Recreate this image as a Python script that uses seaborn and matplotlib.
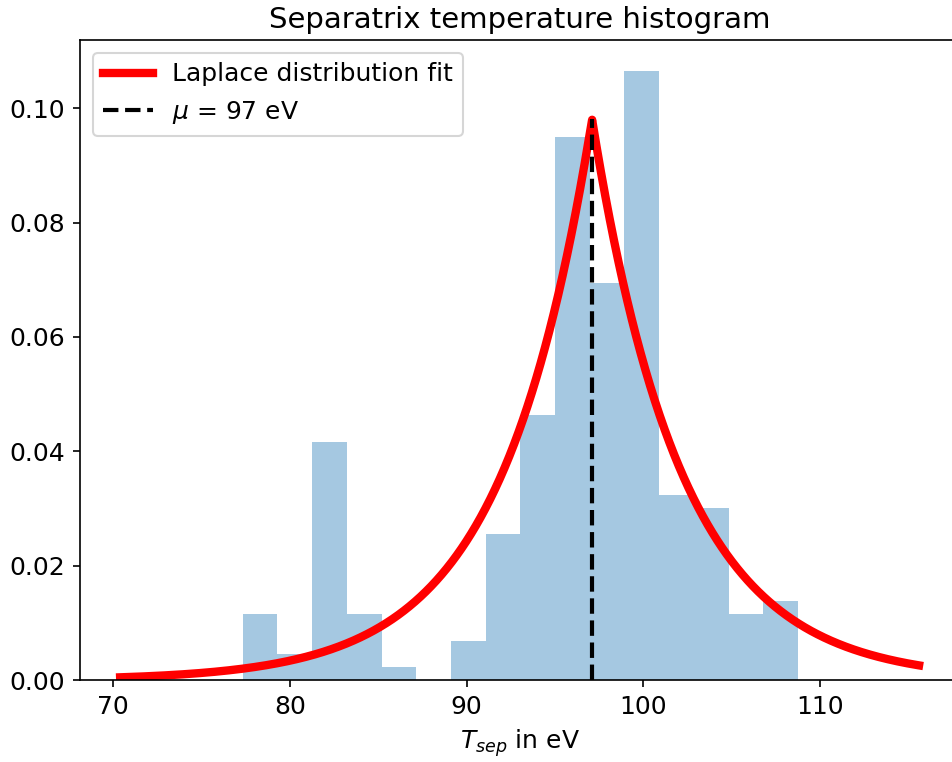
import numpy as np
import pandas as pd
import matplotlib
matplotlib.use("Agg")
import matplotlib.pyplot as plt
import seaborn as sns

# Histogram data (density per bin)
bin_edges = [77.34, 79.30, 81.27, 83.23, 85.19, 87.16, 89.12, 91.08, 93.04,
             95.01, 96.97, 98.93, 100.90, 102.86, 104.82, 106.79, 108.75]
bin_density = [0.0116, 0.0046, 0.0417, 0.0116, 0.0023, 0.0, 0.0069, 0.0255,
               0.0463, 0.0949, 0.0695, 0.1065, 0.0324, 0.0301, 0.0116, 0.0139]

# Laplace fit parameters
fit_mu = 97.1
fit_b = 5.1
fit_range = [70.4, 115.6]

centers = [(bin_edges[i] + bin_edges[i + 1]) / 2 for i in range(len(bin_density))]
hist_df = pd.DataFrame({"T": centers, "density": bin_density})

xs = np.linspace(fit_range[0], fit_range[1], 2000)
pdf = np.exp(-np.abs(xs - fit_mu) / fit_b) / (2 * fit_b)
fit_df = pd.DataFrame({"T": xs, "pdf": pdf})

plt.rcParams["font.family"] = ["DejaVu Sans"]
fig = plt.figure(figsize=(952 / 150, 762 / 150), dpi=150)
ax = fig.add_axes([80 / 952, (762 - 680.3) / 762, (959 - 80) / 952, (680.3 - 40) / 762])

sns.histplot(data=hist_df, x="T", weights="density", bins=bin_edges, stat="count",
             color="#1f77b4", alpha=0.4, linewidth=0, ax=ax)
sns.lineplot(data=fit_df, x="T", y="pdf", color="red", linewidth=4,
             label="Laplace distribution fit", ax=ax)
peak = 1 / (2 * fit_b)
ax.plot([fit_mu, fit_mu], [0, peak], color="black", linestyle="--", linewidth=2,
        label=r"$\mu$ = 97 eV")

ax.set_xlim(68.13, 117.86)
ax.set_ylim(0, 0.1119)
ax.set_xticks([70, 80, 90, 100, 110])
ax.set_yticks([0.0, 0.02, 0.04, 0.06, 0.08, 0.10])
ax.set_yticklabels(["0.00", "0.02", "0.04", "0.06", "0.08", "0.10"])
ax.tick_params(labelsize=12)
ax.set_ylabel("")
ax.set_xlabel(r"$T_{sep}$ in eV", fontsize=12)
ax.set_title("Separatrix temperature histogram", fontsize=14)
ax.legend(loc="upper left", fontsize=12)

fig.savefig("out.png", dpi=150)
